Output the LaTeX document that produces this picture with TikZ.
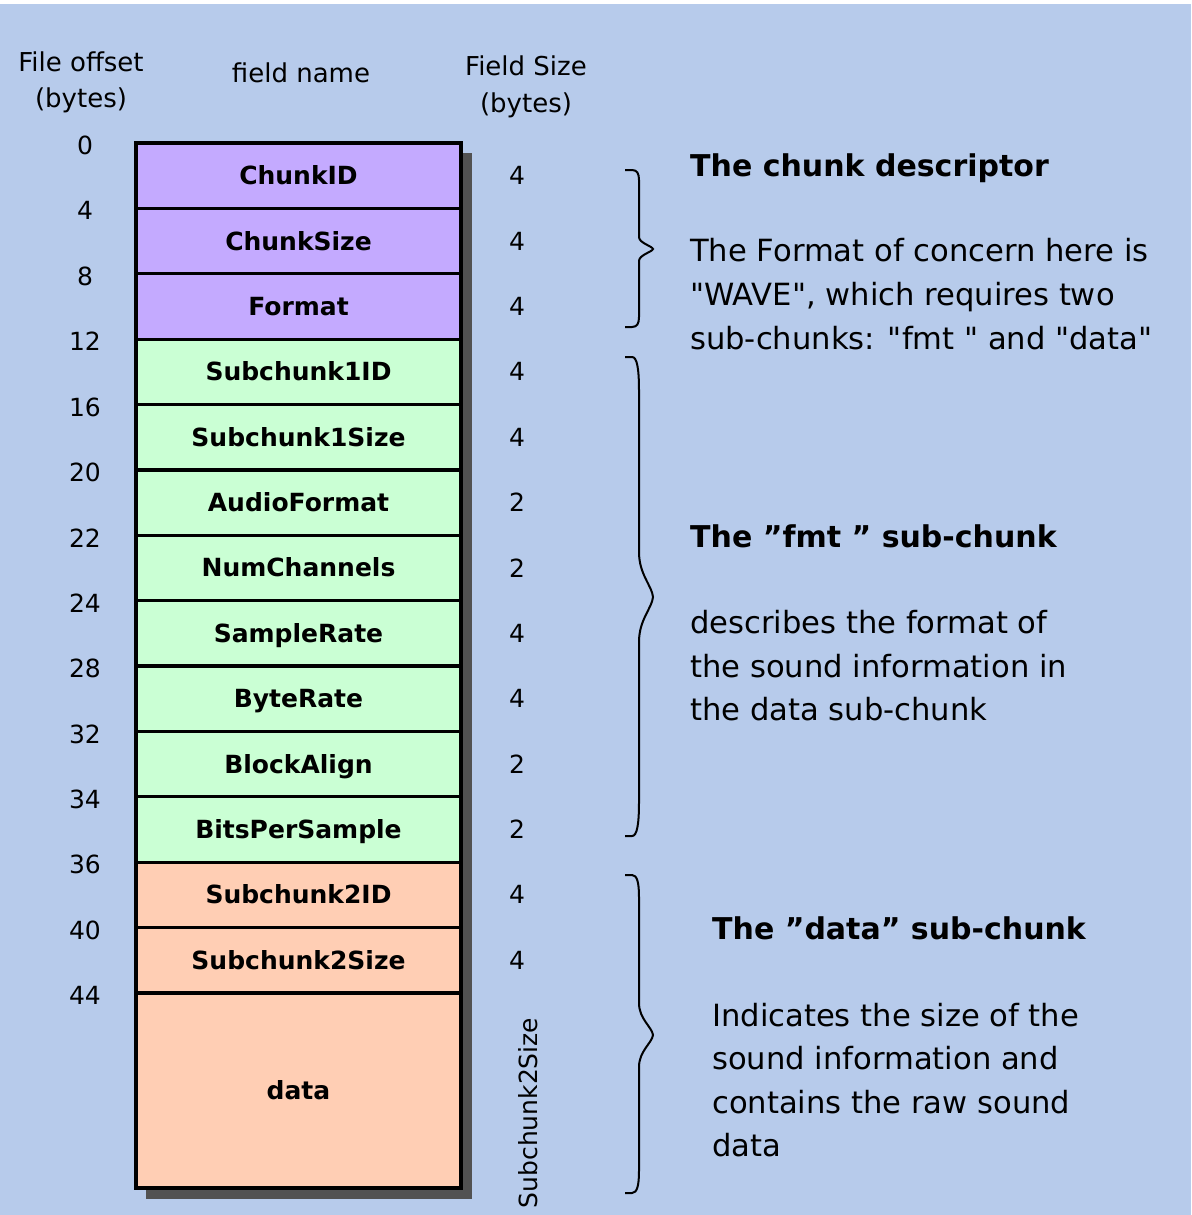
\documentclass[tikz,border=0pt]{standalone}
\usepackage{fontspec}
\setmainfont{DejaVu Sans}
\definecolor{bg}{RGB}{183,203,235}
\definecolor{cpurple}{RGB}{196,170,255}
\definecolor{cgreen}{RGB}{202,255,212}
\definecolor{cpeach}{RGB}{255,206,180}
\definecolor{shadowgray}{RGB}{82,82,82}
\tikzset{
  cell/.style={draw=black, line width=3.2pt, minimum width=325pt, minimum height=65.38pt,
    inner sep=0pt, text height=18pt, text depth=0pt, font=\bfseries\fontsize{25}{30}\selectfont},
  num/.style={inner sep=0pt, font=\fontsize{25}{28}\selectfont},
  hdr/.style={inner sep=0pt, anchor=base, font=\fontsize{26}{30}\selectfont},
  ttl/.style={inner sep=0pt, anchor=base west, font=\bfseries\fontsize{30}{36}\selectfont},
  body/.style={inner sep=0pt, anchor=base west, font=\fontsize{30.6}{36}\selectfont},
  bracel/.style={draw=black, line width=2pt, line join=miter}
}
\newcommand\wavbrace[5]{% top, tip, bottom, hook, slant
  \draw[bracel] (625,#1) -- (632,#1) .. controls (637,#1) and (639,{#1+#4/3}) .. (639,{#1+#4})
    -- (639,{#2-#5}) .. controls (639,{#2-#5/2}) and (652,{#2-#5/4}) .. (653,#2)
    .. controls (652,{#2+#5/4}) and (639,{#2+#5/2}) .. (639,{#2+#5})
    -- (639,{#3-#4}) .. controls (639,{#3-#4/3}) and (637,#3) .. (632,#3) -- (625,#3);
}
\begin{document}
\begin{tikzpicture}[x=1pt,y=-1pt]
\useasboundingbox (0,0) rectangle (1191,1215);
\fill[white] (0,0) rectangle (1191,1215);
\fill[bg] (0,4) rectangle (1191,1215);

% headers
\node[hdr] (hoffa) at (81,71) {File offset};
\node[hdr] (hoffb) at (81,107) {(bytes)};
\node[hdr] (hname) at (301,82) {field name};
\node[hdr] (hsizea) at (526,76) {Field Size};
\node[hdr] (hsizeb) at (526,112) {(bytes)};

% shadow
\fill[shadowgray] (146,153) rectangle (472,1199);

% rows
\foreach \i/\nm/\sz/\col in {1/ChunkID/4/cpurple, 2/ChunkSize/4/cpurple, 3/Format/4/cpurple,
  4/Subchunk1ID/4/cgreen, 5/Subchunk1Size/4/cgreen, 6/AudioFormat/2/cgreen,
  7/NumChannels/2/cgreen, 8/SampleRate/4/cgreen, 9/ByteRate/4/cgreen,
  10/BlockAlign/2/cgreen, 11/BitsPerSample/2/cgreen,
  12/Subchunk2ID/4/cpeach, 13/Subchunk2Size/4/cpeach}{
  \node[cell, fill=\col] (r\i) at (298.5,{143+65.38*(\i-0.5)}) {\nm};
  \node[num] (s\i) at (517,{143+65.38*(\i-0.5)}) {\sz};
}
\node[cell, fill=cpeach, minimum height=194.8pt] (r14) at (298.5,1090.6) {data};
\node[num, rotate=90, font=\fontsize{25}{30}\selectfont] (s14) at (528,1113) {Subchunk2Size};

% offsets
\foreach \j/\o in {0/0,1/4,2/8,3/12,4/16,5/20,6/22,7/24,8/28,9/32,10/34,11/36,12/40,13/44}{
  \node[num] (o\j) at (85,{145.5+65.38*\j}) {\o};
}

% braces
\wavbrace{170}{249}{327}{10}{12}
\wavbrace{357}{597}{836}{34}{45}
\wavbrace{875}{1035}{1193}{22}{32}

% descriptions
\node[ttl] (t1) at (690,176) {The chunk descriptor};
\node[body] (d1a) at (690,261) {The Format of concern here is};
\node[body] (d1b) at (690,305) {\textquotedbl WAVE\textquotedbl, which requires two};
\node[body] (d1c) at (690,349) {sub-chunks: \textquotedbl fmt \textquotedbl\ and \textquotedbl data\textquotedbl};

\node[ttl] (t2) at (690,547) {The ”fmt ” sub-chunk};
\node[body] (d2a) at (690,633) {describes the format of};
\node[body] (d2b) at (690,677) {the sound information in};
\node[body] (d2c) at (690,720) {the data sub-chunk};

\node[ttl] (t3) at (712,939) {The ”data” sub-chunk};
\node[body] (d3a) at (712,1026) {Indicates the size of the};
\node[body] (d3b) at (712,1069) {sound information and};
\node[body] (d3c) at (712,1113) {contains the raw sound};
\node[body] (d3d) at (712,1156) {data};
\end{tikzpicture}
\end{document}
